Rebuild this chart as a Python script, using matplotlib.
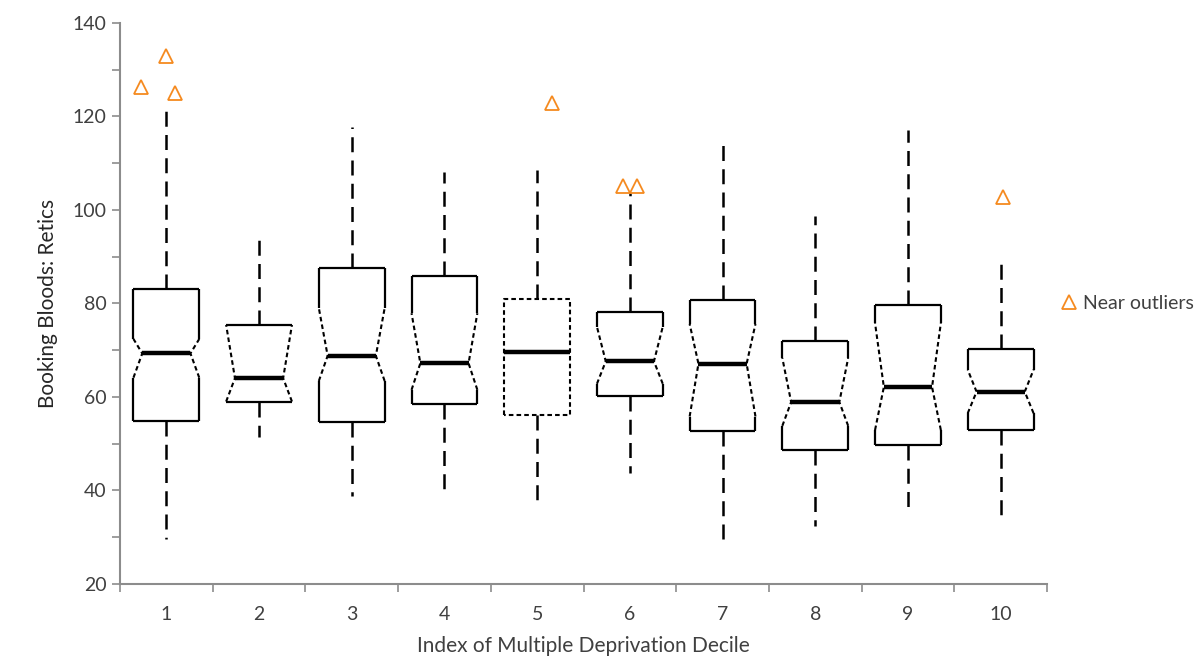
import numpy as np
import matplotlib.pyplot as plt
from matplotlib.ticker import MultipleLocator

# deciles and box statistics
deciles = [1, 2, 3, 4, 5, 6, 7, 8, 9, 10]
whisk_lo = [29.6, 51.4, 38.7, 39.7, 36.2, 43.7, 28.3, 32.3, 36.2, 34.8]
q1 = [54.9, 59.0, 54.7, 58.5, 56.1, 60.1, 52.8, 48.7, 49.7, 52.9]
notch_lo = [64.1, 59.0, 63.4, 61.5, 56.1, 62.8, 55.8, 53.8, 52.9, 56.5]
median = [69.3, 64.0, 68.8, 67.2, 69.5, 67.6, 67.1, 58.9, 62.1, 61.1]
notch_hi = [72.4, 75.4, 79.0, 77.9, 80.9, 75.0, 75.6, 68.3, 75.8, 65.8]
q3 = [83.0, 75.4, 87.5, 85.9, 80.9, 78.1, 80.7, 72.0, 79.7, 70.3]
whisk_hi = [122.7, 94.2, 117.7, 108.2, 108.6, 103.6, 114.8, 98.6, 117.0, 90.0]
notched = [True, True, True, True, False, True, True, True, True, True]

# near outliers (x is decile position incl. jitter)
out_x = [0.73, 1.0, 1.09, 5.16, 5.93, 6.08, 10.02]
out_y = [126.2, 132.9, 125.1, 122.8, 105.1, 105.1, 102.8]

plt.rcParams['font.family'] = ['Lato', 'DejaVu Sans']

fig = plt.figure(figsize=(12, 6.56), dpi=100)
ax = fig.add_axes([0.1, 0.11, 0.7725, 0.855])

w = 0.355      # half box width
ww = 0.26      # half width at the notch waist
box_kw = dict(color='black', lw=1.6, solid_capstyle='butt')
dash_kw = dict(color='black', lw=1.5, linestyle=(0, (2.2, 1.5)))
whisk_kw = dict(color='black', lw=1.8, linestyle=(0, (6, 3.3)))

for i, x in enumerate(deciles):
    lo, hi, md = q1[i], q3[i], median[i]
    # whiskers
    ax.plot([x, x], [hi, whisk_hi[i]], **whisk_kw)
    ax.plot([x, x], [lo, whisk_lo[i]], **whisk_kw)
    if notched[i]:
        nl, nh = notch_lo[i], notch_hi[i]
        # solid straight parts
        ax.plot([x - w, x - w], [lo, nl], **box_kw)
        ax.plot([x + w, x + w], [lo, nl], **box_kw)
        ax.plot([x - w, x - w], [nh, hi], **box_kw)
        ax.plot([x + w, x + w], [nh, hi], **box_kw)
        ax.plot([x - w, x + w], [lo, lo], **box_kw)
        ax.plot([x - w, x + w], [hi, hi], **box_kw)
        # dashed notch
        ax.plot([x - w, x - ww, x - w], [nl, md, nh], **dash_kw)
        ax.plot([x + w, x + ww, x + w], [nl, md, nh], **dash_kw)
        ax.plot([x - ww, x + ww], [md, md], color='black', lw=3.2, solid_capstyle='butt')
    else:
        ax.plot([x - w, x - w, x + w, x + w, x - w], [lo, hi, hi, lo, lo], **dash_kw)
        ax.plot([x - w, x + w], [md, md], color='black', lw=3.2, solid_capstyle='butt')

ax.plot(out_x, out_y, linestyle='none', marker='^', ms=10, mfc='none',
        mec='#F58A1F', mew=1.3, label='Near outliers')

ax.set_xlim(0.5, 10.5)
ax.set_ylim(20, 140)
ax.yaxis.set_major_locator(MultipleLocator(20))
ax.yaxis.set_minor_locator(MultipleLocator(10))
ax.set_xticks(deciles)
ax.set_xticklabels([str(d) for d in deciles])
ax.set_xticks(np.arange(0.5, 11, 1), minor=True)
ax.tick_params(axis='x', which='major', length=0, pad=16, labelsize=14, colors='#404040')
ax.tick_params(axis='x', which='minor', length=6, color='#8c8c8c', width=1.2)
ax.tick_params(axis='y', which='both', length=6, color='#8c8c8c', width=1.2,
               labelsize=14, labelcolor='#404040')

for s in ['top', 'right']:
    ax.spines[s].set_visible(False)
for s in ['left', 'bottom']:
    ax.spines[s].set_color('#8c8c8c')
    ax.spines[s].set_linewidth(1.5)

ax.set_xlabel('Index of Multiple Deprivation Decile', fontsize=15, color='#404040', labelpad=9)
ax.set_ylabel('Booking Bloods: Retics', fontsize=15, color='#262626', labelpad=11)

ax.legend(loc='center left', bbox_to_anchor=(0.997, 0.5), frameon=False,
          handlelength=0.8, handletextpad=0.3, fontsize=14, labelcolor='#404040')

fig.savefig('out.png', dpi=100)
